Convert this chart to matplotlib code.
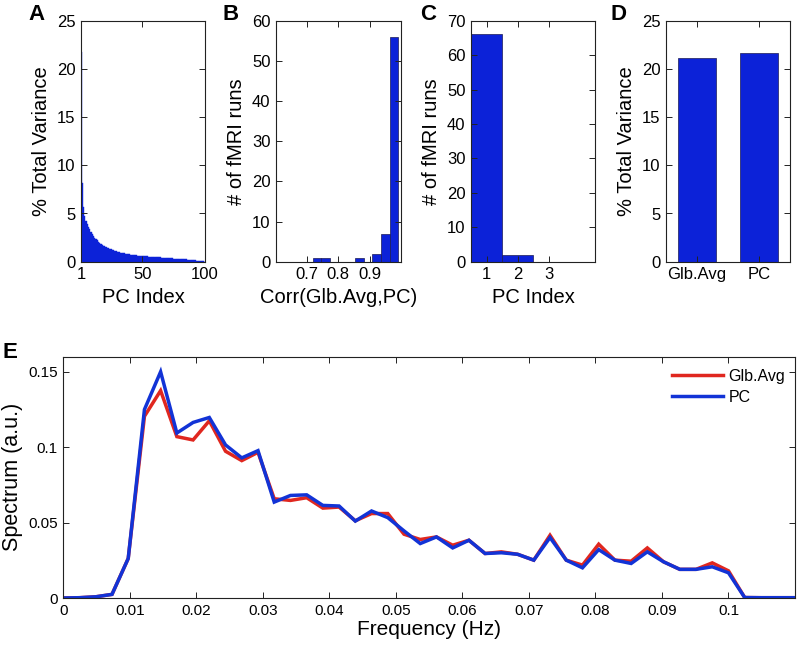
import matplotlib
matplotlib.use("Agg")
import matplotlib.pyplot as plt
import numpy as np

plt.rcParams['font.family'] = ['Liberation Sans', 'DejaVu Sans']

# ---------------- data ----------------
# Panel A: % variance explained by each PC (1..100)
pc_var = [21.8, 8.2, 5.7, 4.7, 4.25, 3.9, 3.6, 3.35, 3.1, 2.9,
          2.7, 2.5, 2.35, 2.2, 2.05, 1.93, 1.83, 1.74, 1.66, 1.59,
          1.52, 1.45, 1.39, 1.34, 1.29, 1.24, 1.19, 1.14, 1.09, 1.05,
          1.01, 0.98, 0.95, 0.92, 0.89, 0.86, 0.83, 0.80, 0.78, 0.76,
          0.74, 0.72, 0.70, 0.68, 0.66, 0.64, 0.62, 0.61, 0.60, 0.58,
          0.57, 0.56, 0.55, 0.54, 0.53, 0.52, 0.51, 0.50, 0.49, 0.48,
          0.47, 0.46, 0.45, 0.44, 0.43, 0.42, 0.41, 0.40, 0.39, 0.38,
          0.37, 0.36, 0.35, 0.34, 0.33, 0.32, 0.31, 0.30, 0.29, 0.28,
          0.27, 0.26, 0.25, 0.24, 0.23, 0.22, 0.21, 0.20, 0.19, 0.18,
          0.16, 0.14, 0.12, 0.10, 0.08, 0.06, 0.05, 0.04, 0.03, 0.02]
pc_index = list(range(1, 101))

# Panel B: histogram of Corr(Glb.Avg, PC)
corr_centers = [0.731, 0.758, 0.786, 0.813, 0.841, 0.868, 0.896, 0.923, 0.951, 0.978]
corr_counts = [1, 1, 0, 0, 0, 1, 0, 2, 7, 56]

# Panel C: histogram of best-matching PC index
best_pc = [1, 2]
best_pc_counts = [66, 2]

# Panel D
d_labels = ['Glb.Avg', 'PC']
d_values = [21.15, 21.65]

# Panel E: spectra
freq = [0.0, 0.00244, 0.00488, 0.00732, 0.00976, 0.0122, 0.01463, 0.01707,
        0.01951, 0.02195, 0.02439, 0.02683, 0.02927, 0.03171, 0.03415, 0.03659,
        0.03902, 0.04146, 0.0439, 0.04634, 0.04878, 0.05122, 0.05366, 0.0561,
        0.05854, 0.06098, 0.06341, 0.06585, 0.06829, 0.07073, 0.07317, 0.07561,
        0.07805, 0.08049, 0.08293, 0.08537, 0.0878, 0.09024, 0.09268, 0.09512,
        0.09756, 0.1, 0.10244, 0.10488, 0.10732, 0.10976]
spec_glb = [0.0, 0.0002, 0.0008, 0.0024, 0.0262, 0.1205, 0.1375, 0.107,
            0.1048, 0.1175, 0.0973, 0.0911, 0.0966, 0.0658, 0.0647, 0.0665,
            0.0596, 0.0603, 0.0512, 0.056, 0.056, 0.0423, 0.0388, 0.0405,
            0.035, 0.0383, 0.0295, 0.0306, 0.029, 0.0251, 0.0416, 0.0251,
            0.0218, 0.0357, 0.0251, 0.0244, 0.0332, 0.024, 0.019, 0.019,
            0.0233, 0.018, 0.0003, 0.0002, 0.0002, 0.0002]
spec_pc = [0.0, 0.0002, 0.0008, 0.0024, 0.0262, 0.125, 0.150, 0.1094,
           0.1164, 0.1197, 0.1015, 0.0929, 0.0977, 0.0636, 0.068, 0.0684,
           0.0614, 0.061, 0.051, 0.0577, 0.0533, 0.0445, 0.0361, 0.0405,
           0.0332, 0.0383, 0.0295, 0.030, 0.029, 0.0251, 0.0401, 0.0251,
           0.020, 0.0321, 0.0251, 0.0229, 0.0306, 0.024, 0.019, 0.019,
           0.0207, 0.0167, 0.0003, 0.0002, 0.0002, 0.0002]

# ---------------- style ----------------
BAR = '#0c22d8'
EDGE = '#1b1b55'
RED = '#e0271f'
BLUE = '#1233d6'
W, H = 797, 647

fig = plt.figure(figsize=(W / 100, H / 100), dpi=100)


def style(ax, tick_fs):
    for s in ax.spines.values():
        s.set_linewidth(0.8)
        s.set_color('#222222')
    ax.tick_params(direction='in', top=True, right=True, length=4, width=0.7,
                   colors='#222222', labelcolor='black', labelsize=tick_fs, pad=4)


def axbox(l, t, r, b):
    return fig.add_axes([l / W, 1 - b / H, (r - l) / W, (b - t) / H])


top, bot = 20.7, 261.7
LAB = 14.5
TICK = 12

# A
axA = axbox(81, top, 205, bot)
axA.bar(pc_index, pc_var, width=1.0, color=BAR, edgecolor=BAR, linewidth=0.3)
axA.set_xlim(1, 100)
axA.set_ylim(0, 25)
axA.set_xticks([1, 50, 100])
axA.set_yticks([0, 5, 10, 15, 20, 25])
axA.set_xlabel('PC Index', fontsize=LAB)
axA.set_ylabel('% Total Variance', fontsize=LAB)
style(axA, TICK)

# B
axB = axbox(276, top, 400.7, bot)
axB.bar(corr_centers, corr_counts, width=0.0275, color=BAR, edgecolor=EDGE, linewidth=0.5)
axB.set_xlim(0.6, 1.0)
axB.set_ylim(0, 60)
axB.set_xticks([0.7, 0.8, 0.9])
axB.set_xticklabels(['0.7', '0.8', '0.9'])
axB.set_yticks(range(0, 61, 10))
axB.set_xlabel('Corr(Glb.Avg,PC)', fontsize=LAB)
axB.set_ylabel('# of fMRI runs', fontsize=LAB)
style(axB, TICK)

# C
axC = axbox(471, top, 595, bot)
axC.bar(best_pc, best_pc_counts, width=1.0, color=BAR, edgecolor=EDGE, linewidth=0.5)
axC.set_xlim(0.5, 4.5)
axC.set_ylim(0, 70)
axC.set_xticks([1, 2, 3])
axC.set_yticks(range(0, 71, 10))
axC.set_xlabel('PC Index', fontsize=LAB)
axC.set_ylabel('# of fMRI runs', fontsize=LAB)
style(axC, TICK)

# D
axD = axbox(666, top, 790, bot)
axD.bar([1, 2], d_values, width=0.6, color=BAR, edgecolor=EDGE, linewidth=0.5)
axD.set_xlim(0.5, 2.5)
axD.set_ylim(0, 25)
axD.set_xticks([1, 2])
axD.set_xticklabels(d_labels)
axD.set_yticks([0, 5, 10, 15, 20, 25])
axD.set_ylabel('% Total Variance', fontsize=LAB)
style(axD, TICK)

# E
axE = axbox(63.3, 356.7, 795, 598)
axE.plot(freq, spec_glb, color=RED, lw=2.5, label='Glb.Avg', solid_joinstyle='miter')
axE.plot(freq, spec_pc, color=BLUE, lw=2.5, label='PC', solid_joinstyle='miter')
axE.set_xlim(0, 0.11)
axE.set_ylim(0, 0.16)
xt = [0, 0.01, 0.02, 0.03, 0.04, 0.05, 0.06, 0.07, 0.08, 0.09, 0.1]
axE.set_xticks(xt)
axE.set_xticklabels(['%g' % v for v in xt])
yt = [0, 0.05, 0.1, 0.15]
axE.set_yticks(yt)
axE.set_yticklabels(['%g' % v for v in yt])
axE.set_xlabel('Frequency (Hz)', fontsize=15, labelpad=2)
axE.set_ylabel('Spectrum (a.u.)', fontsize=15.5, labelpad=4)
style(axE, 11)
axE.legend(frameon=False, fontsize=11.5, loc='upper left',
           bbox_to_anchor=(671.7 / W, 1 - 369 / H), bbox_transform=fig.transFigure,
           borderpad=0, borderaxespad=0, handlelength=3.2, handletextpad=0.35,
           labelspacing=0.35)

# panel letters
for letter, x, y in [('A', 28, 4), ('B', 223, 4), ('C', 420, 4), ('D', 611, 4), ('E', 2, 342)]:
    fig.text(x / W, 1 - y / H, letter, fontsize=16, fontweight='bold', va='top', ha='left')

fig.savefig('out.png', dpi=100)
